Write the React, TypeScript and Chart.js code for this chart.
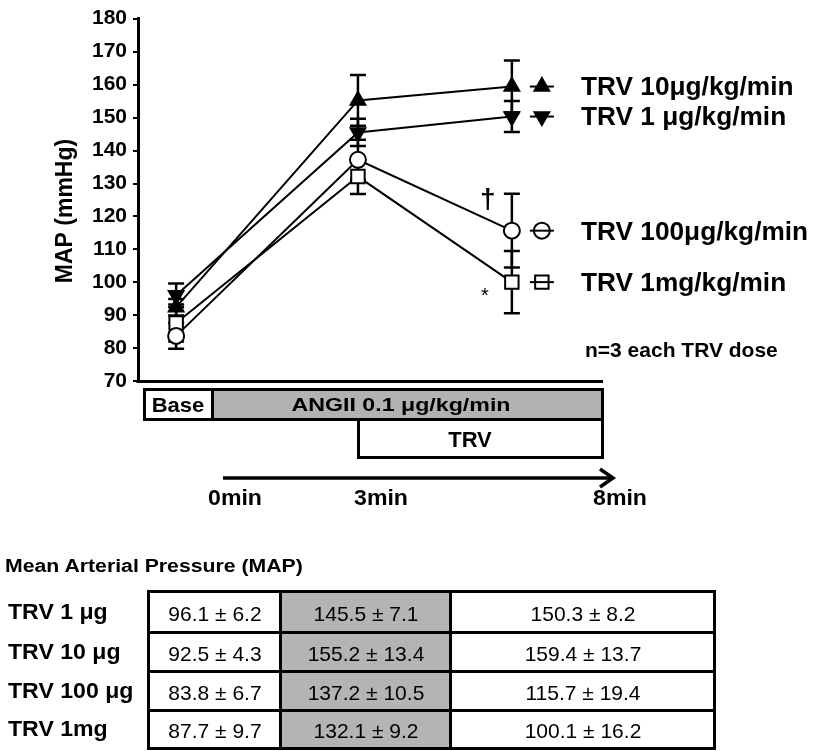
import React, { useEffect, useRef } from 'react';
import { Chart, registerables } from 'chart.js';
import { drawPoint } from 'chart.js/helpers';

Chart.register(...registerables);

const FONT = '"Liberation Sans", Arial, Helvetica, sans-serif';
const MU = '\u03bc';

// ---------- data ----------
const timePoints = ['Base', '3min', '8min'];
const timeX = [0.82, 4.73, 8.04];

const trv1Mean = [96.1, 145.5, 150.3];
const trv1SD = [6.2, 7.1, 8.2];
const trv1SEM = [3.6, 4.1, 4.7];

const trv10Mean = [92.5, 155.2, 159.4];
const trv10SD = [4.3, 13.4, 13.7];
const trv10SEM = [2.5, 7.7, 7.9];

const trv100Mean = [83.8, 137.2, 115.7];
const trv100SD = [6.7, 10.5, 19.4];
const trv100SEM = [3.9, 6.1, 11.2];

const trv1mgMean = [87.7, 132.1, 100.1];
const trv1mgSD = [9.7, 9.2, 16.2];
const trv1mgSEM = [5.6, 5.3, 9.4];

const legendLabels = [`TRV 1 ${MU}g/kg/min`, `TRV 10${MU}g/kg/min`, `TRV 100${MU}g/kg/min`, 'TRV 1mg/kg/min'];
const tableLabels = [`TRV 1 ${MU}g`, `TRV 10 ${MU}g`, `TRV 100 ${MU}g`, 'TRV 1mg'];
const angLabel = `ANGII 0.1 ${MU}g/kg/min`;
const timeLabels = ['0min', '3min', '8min'];

const yMin = 70;
const yMax = 180;
const yStep = 10;

const series = [
  { legend: legendLabels[0], mean: trv1Mean, sd: trv1SD, sem: trv1SEM, style: 'triangle', rot: 180, r: 8.5, fill: '#000' },
  { legend: legendLabels[1], mean: trv10Mean, sd: trv10SD, sem: trv10SEM, style: 'triangle', rot: 0, r: 8.5, fill: '#000' },
  { legend: legendLabels[2], mean: trv100Mean, sd: trv100SD, sem: trv100SEM, style: 'circle', rot: 0, r: 8, fill: '#fff' },
  { legend: legendLabels[3], mean: trv1mgMean, sd: trv1mgSD, sem: trv1mgSEM, style: 'rect', rot: 0, r: 9.5, fill: '#fff' },
];

// ---------- plugins ----------
const errorBarPlugin = {
  id: 'errorBars',
  beforeDatasetsDraw(chart: any) {
    const ctx = chart.ctx;
    const ys = chart.scales.y;
    ctx.save();
    ctx.strokeStyle = '#000';
    ctx.lineWidth = 2.5;
    chart.data.datasets.forEach((ds: any, i: number) => {
      const meta = chart.getDatasetMeta(i);
      meta.data.forEach((pt: any, j: number) => {
        const v = ds.data[j].y;
        const top = ys.getPixelForValue(v + ds.sem[j]);
        const bot = ys.getPixelForValue(v - ds.sem[j]);
        ctx.beginPath();
        ctx.moveTo(pt.x, top);
        ctx.lineTo(pt.x, bot);
        ctx.moveTo(pt.x - 8, top);
        ctx.lineTo(pt.x + 8, top);
        ctx.moveTo(pt.x - 8, bot);
        ctx.lineTo(pt.x + 8, bot);
        ctx.stroke();
      });
    });
    ctx.restore();
  },
};

const annotPlugin = {
  id: 'annot',
  afterDraw(chart: any) {
    const ctx = chart.ctx;
    const ys = chart.scales.y;
    const xs = chart.scales.x;
    const area = chart.chartArea;
    ctx.save();
    // x axis line
    ctx.strokeStyle = '#000';
    ctx.lineWidth = 3;
    ctx.beginPath();
    ctx.moveTo(area.left - 1.5, area.bottom);
    ctx.lineTo(area.right, area.bottom);
    ctx.stroke();

    // y title
    ctx.save();
    ctx.translate(66, 211);
    ctx.rotate(-Math.PI / 2);
    ctx.fillStyle = '#000';
    ctx.font = `bold 23px ${FONT}`;
    ctx.textAlign = 'center';
    ctx.textBaseline = 'middle';
    ctx.fillText('MAP (mmHg)', 0, 0);
    ctx.restore();

    // legend next to last points
    const lastX = xs.getPixelForValue(timeX[timeX.length - 1]);
    series.forEach((s) => {
      const y = ys.getPixelForValue(s.mean[s.mean.length - 1]);
      const mx = lastX + 30;
      ctx.fillStyle = s.fill;
      ctx.strokeStyle = '#000';
      ctx.lineWidth = 2;
      drawPoint(ctx, { pointStyle: s.style as any, radius: s.r, rotation: s.rot, borderWidth: 2 } as any, mx, y);
      ctx.beginPath();
      ctx.moveTo(mx - 12, y);
      ctx.lineTo(mx + 12, y);
      ctx.stroke();
      ctx.fillStyle = '#000';
      ctx.font = `bold 25px ${FONT}`;
      ctx.textAlign = 'left';
      ctx.textBaseline = 'middle';
      ctx.save();
      ctx.translate(581, y + 2);
      ctx.scale(1.05, 1);
      ctx.fillText(s.legend, 0, 0);
      ctx.restore();
    });

    // significance marks
    const s100 = series[2];
    const s1mg = series[3];
    ctx.fillStyle = '#000';
    ctx.textAlign = 'center';
    ctx.textBaseline = 'middle';
    ctx.font = `bold 28px ${FONT}`;
    ctx.fillText('\u2020', lastX - 24, ys.getPixelForValue(s100.mean[2] + s100.sem[2]) + 7);
    ctx.font = `20px ${FONT}`;
    ctx.fillText('*', lastX - 27, ys.getPixelForValue(s1mg.mean[2]) + 14);

    // n=3 note
    ctx.textAlign = 'left';
    ctx.font = `bold 21px ${FONT}`;
    ctx.fillText('n=3 each TRV dose', 585, 351);
    ctx.restore();
  },
};

// ---------- helpers ----------
function Txt(props: { x: number; y: number; size: number; bold?: boolean; sx?: number; align?: 'center' | 'left'; children: React.ReactNode }) {
  const { x, y, size, bold = false, sx = 1, align = 'center', children } = props;
  const style: React.CSSProperties = {
    position: 'absolute',
    left: x,
    top: y,
    fontSize: size,
    fontWeight: bold ? 700 : 400,
    fontFamily: FONT,
    lineHeight: 1,
    whiteSpace: 'nowrap',
    color: '#000',
    transform: align === 'center' ? `translate(-50%, -50%) scaleX(${sx})` : `translateY(-50%) scaleX(${sx})`,
    transformOrigin: align === 'center' ? '50% 50%' : '0 50%',
  };
  return <div style={style}>{children}</div>;
}

function Box(props: { l: number; t: number; w: number; h: number; bg: string; bw?: number }) {
  const { l, t, w, h, bg, bw = 3 } = props;
  return (
    <div
      style={{
        position: 'absolute',
        left: l,
        top: t,
        width: w,
        height: h,
        boxSizing: 'border-box',
        border: `${bw}px solid #000`,
        background: bg,
      }}
    />
  );
}

const colX = [148, 280, 450, 714];
const rowY = [591, 632, 671, 710, 748];

export default function App() {
  const canvasRef = useRef<HTMLCanvasElement | null>(null);

  useEffect(() => {
    if (!canvasRef.current) return;
    const chart = new Chart(canvasRef.current, {
      type: 'line',
      data: {
        datasets: series.map((s) => ({
          label: s.legend,
          data: s.mean.map((v, i) => ({ x: timeX[i], y: v })),
          sem: s.sem,
          borderColor: '#000',
          borderWidth: 2,
          pointStyle: s.style,
          pointRotation: s.rot,
          pointRadius: s.r,
          pointBackgroundColor: s.fill,
          pointBorderColor: '#000',
          pointBorderWidth: 2,
          tension: 0,
          fill: false,
        })) as any,
      },
      options: {
        responsive: false,
        animation: false,
        devicePixelRatio: 1,
        layout: { padding: { top: 12, right: 216, bottom: 17, left: 0 } },
        plugins: { legend: { display: false }, tooltip: { enabled: false } },
        scales: {
          x: { type: 'linear', min: 0, max: 10, display: false },
          y: {
            min: yMin,
            max: yMax,
            ticks: { stepSize: yStep, color: '#000', font: { family: FONT, size: 21, weight: 'bold' }, padding: 6 },
            grid: { drawOnChartArea: false, drawTicks: true, tickLength: 5, color: '#000', lineWidth: 2 },
            border: { display: true, color: '#000', width: 3 },
            afterFit: (s: any) => {
              s.width = 138;
            },
          },
        },
      } as any,
      plugins: [errorBarPlugin, annotPlugin],
    });
    return () => chart.destroy();
  }, []);

  return (
    <div style={{ position: 'absolute', left: 0, top: 0, width: 819, height: 751, background: '#fff', overflow: 'hidden' }}>
      <canvas ref={canvasRef} width={819} height={400} style={{ position: 'absolute', left: 0, top: 0, width: 819, height: 400 }} />

      {/* protocol timeline */}
      <Box l={143} t={388} w={72} h={33} bg="#fff" />
      <Box l={211} t={388} w={393} h={33} bg="#b2b2b2" />
      <Box l={357} t={418} w={247} h={41} bg="#fff" />
      <Txt x={178} y={404} size={21} bold sx={1.05}>{timePoints[0]}</Txt>
      <Txt x={401} y={404} size={19} bold sx={1.22}>{angLabel}</Txt>
      <Txt x={470} y={440} size={22} bold sx={1.0}>TRV</Txt>
      <svg width={819} height={751} style={{ position: 'absolute', left: 0, top: 0 }}>
        <line x1={223} y1={478} x2={611} y2={478} stroke="#000" strokeWidth={3.5} />
        <polyline points="600,469 613,478 600,487" stroke="#000" strokeWidth={3.5} fill="none" />
      </svg>
      <Txt x={235} y={498} size={22} bold sx={1.05}>{timeLabels[0]}</Txt>
      <Txt x={381} y={498} size={22} bold sx={1.05}>{timeLabels[1]}</Txt>
      <Txt x={620} y={498} size={22} bold sx={1.05}>{timeLabels[2]}</Txt>

      {/* table */}
      <Txt x={5} y={566} size={18} bold sx={1.18} align="left">Mean Arterial Pressure (MAP)</Txt>
      {series.map((s, r) => (
        <React.Fragment key={r}>
          <Txt x={8} y={(rowY[r] + rowY[r + 1]) / 2} size={22} bold sx={1.05} align="left">{tableLabels[r]}</Txt>
          {s.mean.map((m, c) => (
            <Box
              key={c}
              l={colX[c] - 1}
              t={rowY[r] - 1}
              w={colX[c + 1] - colX[c] + 3}
              h={rowY[r + 1] - rowY[r] + 3}
              bg={c === 1 ? '#b4b4b4' : '#fff'}
            />
          ))}
          {s.mean.map((m, c) => (
            <Txt key={'t' + c} x={(colX[c] + colX[c + 1]) / 2 + 1} y={(rowY[r] + rowY[r + 1]) / 2 + 1} size={21} sx={1.0}>
              {`${m.toFixed(1)} \u00b1 ${s.sd[c].toFixed(1)}`}
            </Txt>
          ))}
        </React.Fragment>
      ))}
    </div>
  );
}
